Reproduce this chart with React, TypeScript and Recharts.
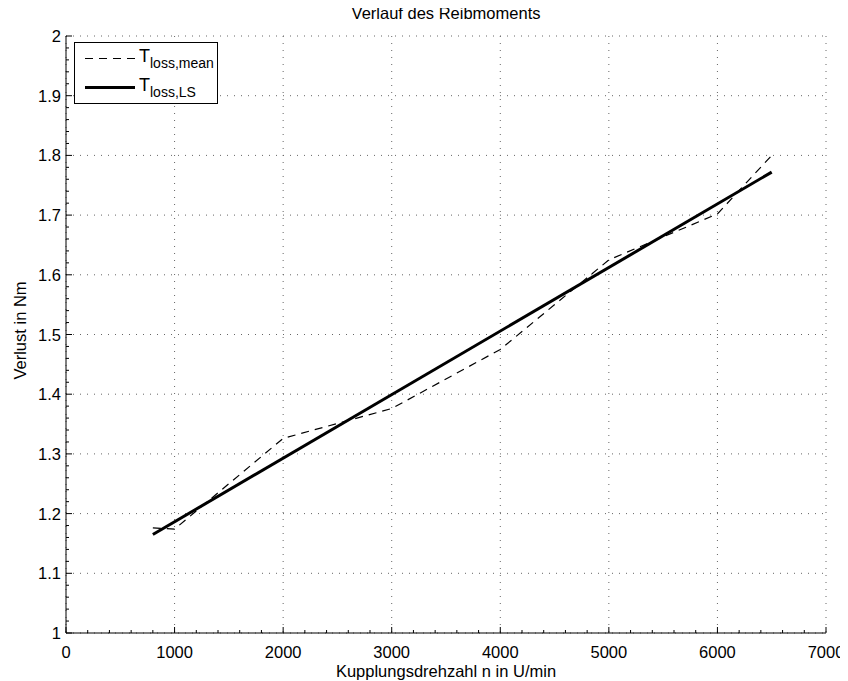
import { LineChart, Line, XAxis, YAxis, CartesianGrid, Legend, Label } from "recharts";

// measured mean loss torque vs. coupling speed
const meanRpm = [800, 1000, 2000, 3000, 4000, 5000, 6000, 6500];
const meanLoss = [1.176, 1.174, 1.326, 1.376, 1.475, 1.625, 1.702, 1.8];

// least squares fit
const fitRpm = [800, 6500];
const fitLoss = [1.165, 1.772];

const xTicks = [0, 1000, 2000, 3000, 4000, 5000, 6000, 7000];
const yTicks = [1, 1.1, 1.2, 1.3, 1.4, 1.5, 1.6, 1.7, 1.8, 1.9, 2];

// minor tick marks (MATLAB style, no labels)
const xMinor: number[] = [];
for (let v = 0; v <= 7000; v += 200) xMinor.push(v);
const yMinor: number[] = [];
for (let k = 0; k <= 50; k++) yMinor.push(Math.round((1 + k * 0.02) * 100) / 100);

const FONT = "'Liberation Sans', Arial, Helvetica, sans-serif";
const FS = 16.5;

const meanData = meanRpm.map((rpm, i) => ({ rpm, loss: meanLoss[i] }));
const fitData = fitRpm.map((rpm, i) => ({ rpm, loss: fitLoss[i] }));

function XTick(props: any) {
  const { x, y, payload } = props;
  const major = xTicks.includes(payload.value);
  return (
    <g>
      <line x1={x} y1={y} x2={x} y2={y - (major ? 6 : 3)} stroke="#000" />
      {major && (
        <text x={x} y={y + 25} textAnchor="middle" fontFamily={FONT} fontSize={FS} fill="#000">
          {payload.value}
        </text>
      )}
    </g>
  );
}

function YTick(props: any) {
  const { x, y, payload } = props;
  const major = yTicks.some((t) => Math.abs(t - payload.value) < 1e-6);
  return (
    <g>
      <line x1={x} y1={y} x2={x + (major ? 6 : 3)} y2={y} stroke="#000" />
      {major && (
        <text x={x - 5} y={y + 6} textAnchor="end" fontFamily={FONT} fontSize={FS} fill="#000">
          {payload.value}
        </text>
      )}
    </g>
  );
}

function LegendBox() {
  return (
    <svg width={144} height={62} style={{ display: "block" }}>
      <rect x={0.5} y={0.5} width={143} height={61} fill="#fff" stroke="#000" />
      <line x1={11} y1={16.5} x2={61} y2={16.5} stroke="#000" strokeDasharray="8 6" />
      <text x={65} y={20} fontFamily={FONT} fontSize={18} fill="#000">
        T<tspan fontSize={14} dy={6}>loss,mean</tspan>
      </text>
      <line x1={11} y1={45.5} x2={61} y2={45.5} stroke="#000" strokeWidth={3} />
      <text x={65} y={49} fontFamily={FONT} fontSize={18} fill="#000">
        T<tspan fontSize={14} dy={6}>loss,LS</tspan>
      </text>
    </svg>
  );
}

export default function App() {
  return (
    <div style={{ position: "relative", width: 840, height: 673 }}>
      <div
        style={{
          position: "absolute",
          left: 58,
          width: 760,
          top: -3,
          textAlign: "center",
          fontFamily: FONT,
          fontSize: FS,
          lineHeight: FS + "px",
        }}
      >
        Verlauf des Reibmoments
      </div>
      <LineChart width={840} height={673} margin={{ top: 28, right: 22, left: 0, bottom: 0 }}>
        <CartesianGrid
          stroke="#666"
          strokeDasharray="1 6"
          verticalValues={xTicks}
          horizontalValues={yTicks}
        />
        <XAxis
          dataKey="rpm"
          type="number"
          domain={[0, 7000]}
          ticks={xMinor}
          interval={0}
          height={48}
          tickSize={0}
          tickMargin={0}
          tickLine={false}
          tick={<XTick />}
          axisLine={{ stroke: "#000" }}
          allowDuplicatedCategory={false}
        >
          <Label
            content={({ viewBox }: any) => (
              <text
                x={viewBox.x + viewBox.width / 2}
                y={viewBox.y + 44}
                textAnchor="middle"
                fontFamily={FONT}
                fontSize={FS}
                fill="#000"
              >
                Kupplungsdrehzahl n in U/min
              </text>
            )}
          />
        </XAxis>
        <YAxis
          type="number"
          domain={[1, 2]}
          ticks={yMinor}
          interval={0}
          width={58}
          tickSize={0}
          tickMargin={0}
          tickLine={false}
          tick={<YTick />}
          axisLine={{ stroke: "#000" }}
        >
          <Label
            content={({ viewBox }: any) => {
              const cx = 18;
              const cy = viewBox.y + viewBox.height / 2 - 4;
              return (
                <text
                  x={cx}
                  y={cy}
                  transform={`rotate(-90, ${cx}, ${cy})`}
                  textAnchor="middle"
                  fontFamily={FONT}
                  fontSize={FS}
                  fill="#000"
                >
                  Verlust in Nm
                </text>
              );
            }}
          />
        </YAxis>
        <Legend
          layout="vertical"
          align="center"
          verticalAlign="middle"
          content={<LegendBox />}
          wrapperStyle={{ left: 66, top: 34, width: 144, height: 62 }}
        />
        <Line
          data={meanData}
          dataKey="loss"
          name="mean"
          stroke="#000"
          strokeWidth={1.2}
          strokeDasharray="8 6"
          dot={false}
          isAnimationActive={false}
        />
        <Line
          data={fitData}
          dataKey="loss"
          name="LS"
          stroke="#000"
          strokeWidth={3}
          dot={false}
          isAnimationActive={false}
        />
      </LineChart>
    </div>
  );
}
